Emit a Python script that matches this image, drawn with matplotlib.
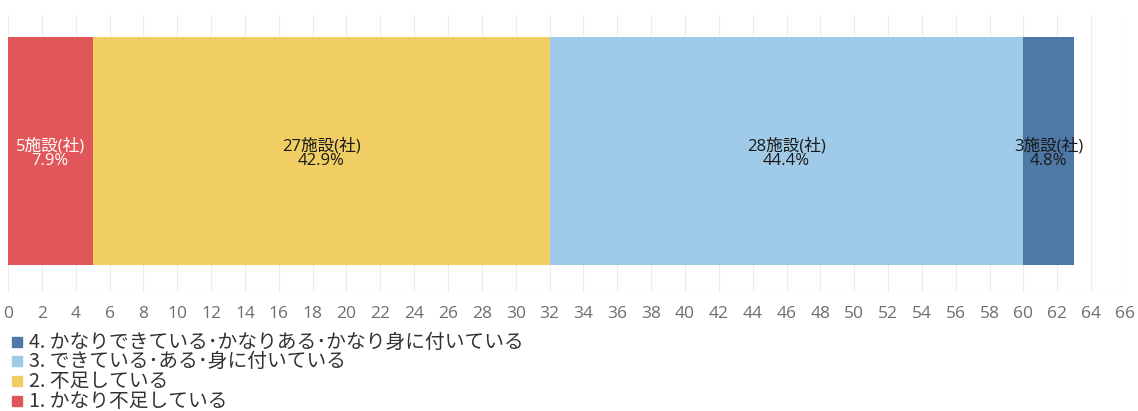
import matplotlib.pyplot as plt
from matplotlib.patches import Rectangle

plt.rcParams['font.family'] = ['Noto Sans CJK JP', 'DejaVu Sans']
LABEL_FONT = ['Open Sans', 'Noto Sans CJK JP']

# Stacked counts (施設数), in order from left to right
categories = ["1. かなり不足している", "2. 不足している",
              "3. できている･ある･身に付いている",
              "4. かなりできている･かなりある･かなり身に付いている"]
counts = [5, 27, 28, 3]
shares = [7.9, 42.9, 44.4, 4.8]
colors = ["#E15759", "#F1CE63", "#A0CBE8", "#4E79A7"]
label_colors = ["white", "#1a1a1a", "#1a1a1a", "#1a1a1a"]
xticks = list(range(0, 67, 2))

fig = plt.figure(figsize=(11.38, 4.11), dpi=100)
ax = fig.add_axes([8 / 1138, 1 - 292 / 411, (1125 - 8) / 1138, (292 - 15) / 411])

left = 0
for n, pct, col, tc in zip(counts, shares, colors, label_colors):
    ax.barh(0, n, left=left, height=1.0, color=col, edgecolor="none", zorder=2)
    ax.text(left + n / 2, -0.01, f"{n}施設(社)\n{pct}%", ha="center", va="center",
            fontsize=12, color=tc, linespacing=0.9, family=LABEL_FONT, zorder=3)
    left += n

ax.set_xlim(0, 66)
ax.set_ylim(-0.5 - 0.118, 0.5 + 0.0965)
ax.set_xticks(xticks)
ax.set_xticklabels([str(t) for t in xticks], fontsize=12.5, color="#6e6e6e",
                   family=LABEL_FONT)
ax.tick_params(axis="x", length=0, pad=10)
ax.set_yticks([])
ax.grid(axis="x", color="#ececec", linewidth=0.8, zorder=0)
for s in ax.spines.values():
    s.set_visible(False)
ax.axhline(ax.get_ylim()[0], color="#ececec", linewidth=0.8, zorder=0)

# Legend, top item is the highest category
rows_y = [342, 361, 381, 401]
for i, (cat, col) in enumerate(zip(categories[::-1], colors[::-1])):
    y = 1 - rows_y[i] / 411
    fig.patches.append(Rectangle((12 / 1138, y - 5 / 411), 10 / 1138, 10 / 411,
                                 transform=fig.transFigure, color=col))
    fig.text(29 / 1138, y, cat, fontsize=14.2, color="#333333", va="center", ha="left")

fig.savefig("out.png", dpi=100)
